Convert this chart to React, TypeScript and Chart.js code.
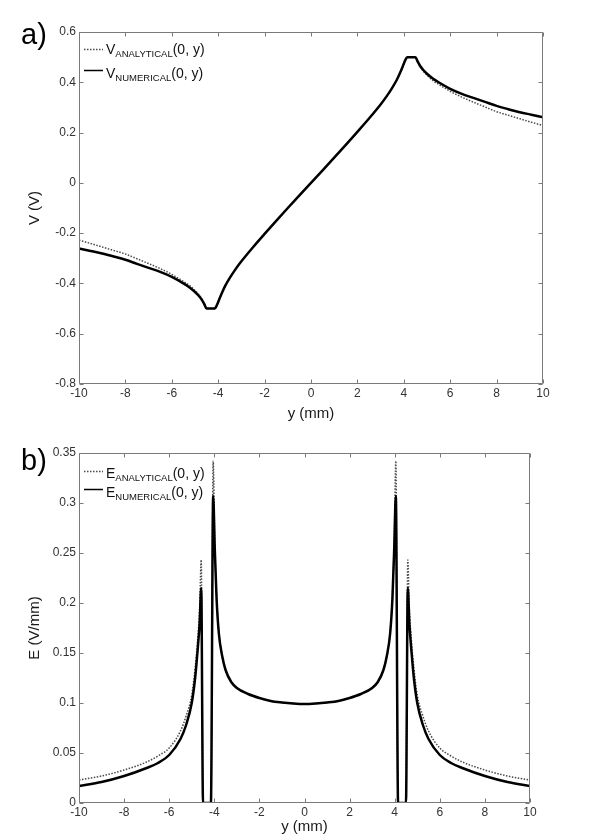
import React, { useEffect, useRef } from "react";
import { Chart, registerables } from "chart.js";

Chart.register(...registerables);

const FONT = "'Liberation Sans', Arial, Helvetica, sans-serif";

// ---------- Panel a): potential V(0, y) ----------
const vPositions = [
  -10, -9.5, -9, -8.5, -8, -7.5, -7, -6.5, -6, -5.5, -5.25, -5, -4.85, -4.7, -4.6, -4.5,
  -4.15, -4.05, -3.95, -3.85, -3.7, -3.5, -3.25, -3, -2.5, -2, -1.5, -1, -0.5, 0,
  0.5, 1, 1.5, 2, 2.5, 3, 3.25, 3.5, 3.7, 3.85, 3.95, 4.05, 4.15,
  4.5, 4.6, 4.7, 4.85, 5, 5.25, 5.5, 6, 6.5, 7, 7.5, 8, 8.5, 9, 9.5, 10,
];
const vNumerical = [
  -0.261, -0.271, -0.281, -0.293, -0.306, -0.322, -0.338, -0.354, -0.374, -0.4, -0.415, -0.434, -0.448, -0.466, -0.482, -0.5,
  -0.5, -0.485, -0.462, -0.44, -0.41, -0.378, -0.343, -0.312, -0.256, -0.203, -0.151, -0.1, -0.05, 0,
  0.05, 0.1, 0.151, 0.203, 0.256, 0.312, 0.343, 0.378, 0.41, 0.44, 0.462, 0.485, 0.5,
  0.5, 0.482, 0.466, 0.448, 0.434, 0.415, 0.4, 0.374, 0.354, 0.338, 0.322, 0.306, 0.293, 0.281, 0.271, 0.261,
];
const vAnalytical = [
  -0.228, -0.241, -0.255, -0.269, -0.283, -0.302, -0.321, -0.341, -0.364, -0.392, -0.407, -0.428, -0.443, -0.462, -0.479, -0.5,
  -0.5, -0.485, -0.462, -0.44, -0.41, -0.378, -0.343, -0.312, -0.256, -0.203, -0.151, -0.1, -0.05, 0,
  0.05, 0.1, 0.151, 0.203, 0.256, 0.312, 0.343, 0.378, 0.41, 0.44, 0.462, 0.485, 0.5,
  0.5, 0.479, 0.462, 0.443, 0.428, 0.407, 0.392, 0.364, 0.341, 0.321, 0.302, 0.283, 0.269, 0.255, 0.241, 0.228,
];
const vAxisTicks = [-0.8, -0.6, -0.4, -0.2, 0, 0.2, 0.4, 0.6];

// ---------- Panel b): field E(0, y) ----------
const ePositions = [
  -10, -9, -8, -7, -6.5, -6, -5.5, -5.25, -5, -4.85, -4.75, -4.65, -4.58, -4.5,
  -4.15, -4.05, -3.98, -3.9, -3.8, -3.65, -3.5, -3.25, -3, -2.5, -2, -1.5, -1, -0.5, 0,
  0.5, 1, 1.5, 2, 2.5, 3, 3.25, 3.5, 3.65, 3.8, 3.9, 3.98, 4.05, 4.15,
  4.5, 4.58, 4.65, 4.75, 4.85, 5, 5.25, 5.5, 6, 6.5, 7, 8, 9, 10,
];
const eNumerical = [
  0.017, 0.021, 0.027, 0.035, 0.04, 0.048, 0.064, 0.078, 0.1, 0.125, 0.15, 0.18, 0.215, 0,
  0, 0.307, 0.255, 0.205, 0.17, 0.147, 0.133, 0.121, 0.115, 0.109, 0.105, 0.102, 0.1005, 0.0995, 0.099,
  0.0995, 0.1005, 0.102, 0.105, 0.109, 0.115, 0.121, 0.133, 0.147, 0.17, 0.205, 0.255, 0.307, 0,
  0, 0.215, 0.18, 0.15, 0.125, 0.1, 0.078, 0.064, 0.048, 0.04, 0.035, 0.027, 0.021, 0.017,
];
const eAnalytical = [
  0.023, 0.027, 0.033, 0.041, 0.047, 0.055, 0.072, 0.087, 0.108, 0.135, 0.16, 0.195, 0.243, 0,
  0, 0.342, 0.262, 0.208, 0.171, 0.147, 0.133, 0.121, 0.115, 0.109, 0.105, 0.102, 0.1005, 0.0995, 0.099,
  0.0995, 0.1005, 0.102, 0.105, 0.109, 0.115, 0.121, 0.133, 0.147, 0.171, 0.208, 0.262, 0.342, 0,
  0, 0.243, 0.195, 0.16, 0.135, 0.108, 0.087, 0.072, 0.055, 0.047, 0.041, 0.033, 0.027, 0.023,
];
const eAxisTicks = [0, 0.05, 0.1, 0.15, 0.2, 0.25, 0.3, 0.35];

const yPosTicks = [-10, -8, -6, -4, -2, 0, 2, 4, 6, 8, 10];

const legendA = [
  { sym: "V", sub: "ANALYTICAL", rest: "(0, y)" },
  { sym: "V", sub: "NUMERICAL", rest: "(0, y)" },
];
const legendB = [
  { sym: "E", sub: "ANALYTICAL", rest: "(0, y)" },
  { sym: "E", sub: "NUMERICAL", rest: "(0, y)" },
];

const fmt = (v: number | string) => String(Number(Number(v).toFixed(3)));

const DOT = { color: "#4a4a4a", width: 1.5, dash: [1.5, 1.5] };
const SOLID = { color: "#000000", width: 2.5, dash: [] as number[] };

const decorPlugin = {
  id: "decor",
  afterDraw(chart: any, _args: any, opts: any) {
    const { ctx, chartArea: ca, scales } = chart;
    const L = Math.round(ca.left) + 0.5;
    const R = Math.round(ca.right) - 0.5;
    const T = Math.round(ca.top) + 0.5;
    const B = Math.round(ca.bottom) - 0.5;
    ctx.save();
    ctx.strokeStyle = "#7a7a7a";
    ctx.lineWidth = 1;
    ctx.setLineDash([]);
    ctx.beginPath();
    ctx.rect(L, T, R - L, B - T);
    const tl = 4;
    scales.x.ticks.forEach((t: any) => {
      const px = Math.round(scales.x.getPixelForValue(t.value)) + 0.5;
      ctx.moveTo(px, B);
      ctx.lineTo(px, B - tl);
      ctx.moveTo(px, T);
      ctx.lineTo(px, T + tl);
    });
    scales.y.ticks.forEach((t: any) => {
      const py = Math.round(scales.y.getPixelForValue(t.value)) + 0.5;
      ctx.moveTo(L, py);
      ctx.lineTo(L + tl, py);
      ctx.moveTo(R, py);
      ctx.lineTo(R - tl, py);
    });
    ctx.stroke();

    // panel label
    ctx.fillStyle = "#000";
    ctx.textAlign = "left";
    ctx.textBaseline = "alphabetic";
    ctx.font = `29px ${FONT}`;
    ctx.fillText(opts.panel, 21, opts.panelBase);

    // legend
    opts.items.forEach((it: any, i: number) => {
      const st = i === 0 ? DOT : SOLID;
      ctx.strokeStyle = st.color;
      ctx.lineWidth = i === 0 ? 1.5 : 1.5;
      ctx.setLineDash(st.dash);
      ctx.beginPath();
      ctx.moveTo(84, opts.sampleY[i]);
      ctx.lineTo(103, opts.sampleY[i]);
      ctx.stroke();
      ctx.setLineDash([]);
      let x = 106;
      const by = opts.baseY[i];
      ctx.fillStyle = "#111";
      ctx.font = `14px ${FONT}`;
      ctx.fillText(it.sym, x, by);
      x += ctx.measureText(it.sym).width;
      ctx.font = `9.5px ${FONT}`;
      ctx.fillText(it.sub, x, by + 3.4);
      x += ctx.measureText(it.sub).width;
      ctx.font = `14px ${FONT}`;
      ctx.fillText(it.rest, x, by);
    });
    ctx.restore();
  },
};

type PanelSpec = {
  height: number;
  padTop: number;
  padRight: number;
  xHeight: number;
  positions: number[];
  analytical: number[];
  numerical: number[];
  yMin: number;
  yMax: number;
  yTicks: number[];
  yTitle: string;
  panel: string;
  panelBase: number;
  items: any[];
  sampleY: number[];
  baseY: number[];
};

function makeConfig(p: PanelSpec): any {
  const pts = (vals: number[]) => p.positions.map((x, i) => ({ x, y: vals[i] }));
  return {
    type: "line",
    data: {
      datasets: [
        {
          label: p.items[1].sym + p.items[1].sub,
          data: pts(p.numerical),
          borderColor: SOLID.color,
          borderWidth: SOLID.width,
          pointRadius: 0,
          cubicInterpolationMode: "monotone",
          fill: false,
          order: 1,
        },
        {
          label: p.items[0].sym + p.items[0].sub,
          data: pts(p.analytical),
          borderColor: DOT.color,
          borderWidth: DOT.width,
          borderDash: DOT.dash,
          pointRadius: 0,
          cubicInterpolationMode: "monotone",
          fill: false,
          order: 2,
        },
      ],
    },
    options: {
      responsive: false,
      animation: false,
      events: [],
      layout: { padding: { top: p.padTop, right: p.padRight, left: 0, bottom: 0 } },
      plugins: {
        legend: { display: false },
        tooltip: { enabled: false },
        decor: {
          panel: p.panel,
          panelBase: p.panelBase,
          items: p.items,
          sampleY: p.sampleY,
          baseY: p.baseY,
        },
      },
      scales: {
        x: {
          type: "linear",
          min: -10,
          max: 10,
          afterBuildTicks: (s: any) => {
            s.ticks = yPosTicks.map((v) => ({ value: v }));
          },
          afterFit: (s: any) => {
            s.height = p.xHeight;
          },
          ticks: {
            font: { family: FONT, size: 12 },
            color: "#333",
            padding: 2,
            maxRotation: 0,
            autoSkip: false,
            callback: fmt,
          },
          grid: { display: false, drawTicks: false },
          border: { display: false },
          title: {
            display: true,
            text: "y (mm)",
            font: { family: FONT, size: 15 },
            color: "#1a1a1a",
            padding: { top: 0, bottom: 2 },
          },
        },
        y: {
          type: "linear",
          min: p.yMin,
          max: p.yMax,
          afterBuildTicks: (s: any) => {
            s.ticks = p.yTicks.map((v) => ({ value: v }));
          },
          afterFit: (s: any) => {
            s.width = 79;
          },
          ticks: {
            font: { family: FONT, size: 12 },
            color: "#333",
            padding: 3,
            autoSkip: false,
            callback: fmt,
          },
          grid: { display: false, drawTicks: false },
          border: { display: false },
          title: {
            display: true,
            text: p.yTitle,
            font: { family: FONT, size: 15 },
            color: "#1a1a1a",
            padding: { top: 26, bottom: 0 },
          },
        },
      },
    },
    plugins: [decorPlugin],
  };
}

const panelA: PanelSpec = {
  height: 425,
  padTop: 32,
  padRight: 57,
  xHeight: 41,
  positions: vPositions,
  analytical: vAnalytical,
  numerical: vNumerical,
  yMin: -0.8,
  yMax: 0.6,
  yTicks: vAxisTicks,
  yTitle: "V (V)",
  panel: "a)",
  panelBase: 43.5,
  items: legendA,
  sampleY: [49.5, 70.5],
  baseY: [53.5, 78],
};

const panelB: PanelSpec = {
  height: 413,
  padTop: 28,
  padRight: 70,
  xHeight: 35,
  positions: ePositions,
  analytical: eAnalytical,
  numerical: eNumerical,
  yMin: 0,
  yMax: 0.35,
  yTicks: eAxisTicks,
  yTitle: "E (V/mm)",
  panel: "b)",
  panelBase: 45,
  items: legendB,
  sampleY: [46.5, 64.5],
  baseY: [52.5, 72],
};

function Panel({ spec, top }: { spec: PanelSpec; top: number }) {
  const ref = useRef<HTMLCanvasElement>(null);
  useEffect(() => {
    const chart = new Chart(ref.current as HTMLCanvasElement, makeConfig(spec));
    return () => chart.destroy();
  }, [spec]);
  return (
    <canvas
      ref={ref}
      width={600}
      height={spec.height}
      style={{ position: "absolute", left: 0, top, width: 600, height: spec.height, display: "block" }}
    />
  );
}

export default function App() {
  return (
    <div
      style={{
        position: "absolute",
        left: 0,
        top: 0,
        width: 600,
        height: 838,
        background: "#fff",
        overflow: "hidden",
      }}
    >
      <Panel spec={panelA} top={0} />
      <Panel spec={panelB} top={425} />
    </div>
  );
}
